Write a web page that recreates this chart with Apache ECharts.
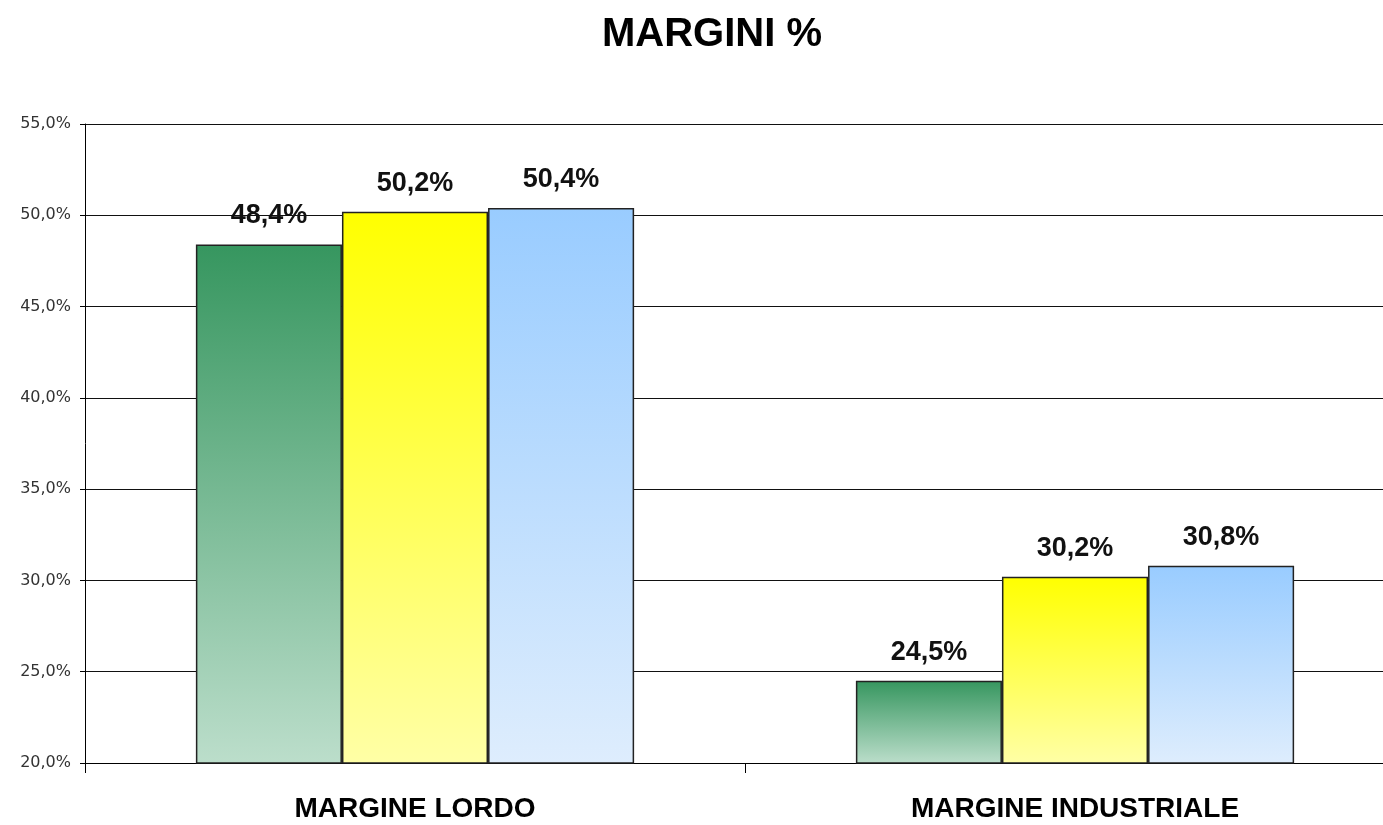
<!DOCTYPE html>
<html>
<head>
<meta charset="utf-8">
<script src="https://cdn.jsdelivr.net/npm/echarts@6/dist/echarts.min.js"></script>
<style>html,body{margin:0;padding:0;background:#fff;overflow:hidden;width:1383px;height:825px}#c{width:1405px;height:825px}</style>
</head>
<body>
<div id="c"></div>
<script>
const titleText = 'MARGINI %';
const categories = ['MARGINE LORDO', 'MARGINE INDUSTRIALE'];
const seriesNames = ['Serie 1', 'Serie 2', 'Serie 3'];
const serie1 = [48.4, 24.5];
const serie2 = [50.2, 30.2];
const serie3 = [50.4, 30.8];
const yMin = 20, yMax = 55, yStep = 5;

const gradients = [
  ['#36965f', '#bcdecb'],
  ['#ffff00', '#ffffa6'],
  ['#99ccff', '#deedfd']
];
function grad(c) {
  return new echarts.graphic.LinearGradient(0, 0, 0, 1, [
    { offset: 0, color: c[0] }, { offset: 1, color: c[1] }
  ]);
}
const fmt = v => v.toFixed(1).replace('.', ',') + '%';
const allData = [serie1, serie2, serie3];

const chart = echarts.init(document.getElementById('c'), null, { renderer: 'canvas' });
chart.setOption({
  animation: false,
  backgroundColor: '#fff',
  title: {
    text: titleText, left: 707, top: 10, textAlign: 'center',
    textStyle: { fontFamily: 'Liberation Sans', fontWeight: 'bold', fontSize: 40, color: '#000' }
  },
  grid: { left: 85, right: 0, top: 124, bottom: 62, containLabel: false },
  xAxis: {
    type: 'category', data: categories,
    axisLine: { lineStyle: { color: '#000', width: 1 } },
    axisTick: { show: true, length: 10, lineStyle: { color: '#000' } },
    axisLabel: { margin: 32, fontFamily: 'Liberation Sans', fontWeight: 'bold', fontSize: 28, color: '#000' }
  },
  yAxis: {
    type: 'value', min: yMin, max: yMax, interval: yStep,
    axisLine: { show: true, lineStyle: { color: '#000', width: 1 } },
    axisTick: { show: true, length: 5, lineStyle: { color: '#000' } },
    axisLabel: { margin: 14, fontFamily: 'DejaVu Sans', fontSize: 16, color: '#333', formatter: v => fmt(v) },
    splitLine: { show: true, lineStyle: { color: '#111', width: 1.2 } }
  },
  series: allData.map((d, i) => ({
    name: seriesNames[i], type: 'bar', data: d,
    barGap: '0%', barCategoryGap: '33.6%',
    itemStyle: { color: grad(gradients[i]), borderColor: '#222', borderWidth: 1.5 },
    label: {
      show: true, position: 'top', distance: 15,
      fontFamily: 'Liberation Sans', fontWeight: 'bold', fontSize: 27, color: '#111',
      formatter: p => fmt(p.value)
    }
  }))
});
</script>
</body>
</html>
